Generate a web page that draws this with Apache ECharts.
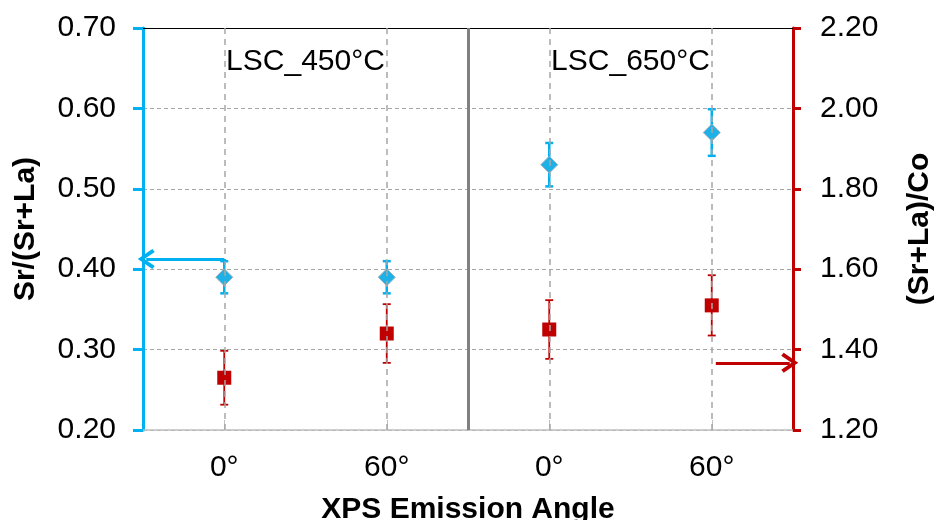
<!DOCTYPE html>
<html>
<head>
<meta charset="utf-8">
<script src="https://cdn.jsdelivr.net/npm/echarts@6/dist/echarts.min.js"></script>
<style>
html,body{margin:0;padding:0;background:#fff;}
#chart{width:935px;height:520px;}
</style>
</head>
<body>
<div id="chart"></div>
<script>
// ---- data ----
const categories = ['0°', '60°', '0°', '60°'];
const groupLabels = ['LSC_450°C', 'LSC_650°C'];
const groupCenters = [0.5, 2.5];          // between the two angles of each group
const srRatio = [0.39, 0.39, 0.53, 0.57];      // Sr/(Sr+La), left axis
const srErr   = [0.02, 0.02, 0.027, 0.029];
const slcRatio = [1.33, 1.44, 1.45, 1.51];     // (Sr+La)/Co, right axis
const slcErr   = [0.067, 0.073, 0.073, 0.075];
const leftTicks = [0.20, 0.30, 0.40, 0.50, 0.60, 0.70];
const rightTicks = [1.20, 1.40, 1.60, 1.80, 2.00, 2.20];

const BLUE = '#00B0F0';
const RED = '#C00000';
const FONT = '"Liberation Sans", Arial, sans-serif';

function errRender(color, lw, capHalf) {
  return function (params, api) {
    const x = api.value(0);
    const lo = api.coord([x, api.value(1)]);
    const hi = api.coord([x, api.value(2)]);
    const st = { stroke: color, lineWidth: lw };
    return {
      type: 'group',
      children: [
        { type: 'line', shape: { x1: lo[0], y1: lo[1], x2: hi[0], y2: hi[1] }, style: st },
        { type: 'line', shape: { x1: lo[0] - capHalf, y1: lo[1], x2: lo[0] + capHalf, y2: lo[1] }, style: st },
        { type: 'line', shape: { x1: hi[0] - capHalf, y1: hi[1], x2: hi[0] + capHalf, y2: hi[1] }, style: st }
      ]
    };
  };
}

const chevron = 'path://M0,12 L10,0 L20,12 L17,14 L10,5.5 L3,14 Z';

const chart = echarts.init(document.getElementById('chart'), null, { renderer: 'canvas' });
chart.setOption({
  backgroundColor: '#ffffff',
  animation: false,
  textStyle: { fontFamily: FONT },
  grid: { left: 143, right: 142, top: 28, bottom: 90, containLabel: false, outerBoundsMode: 'none' },
  xAxis: [{
    type: 'category',
    data: categories,
    boundaryGap: true,
    name: 'XPS Emission Angle',
    nameLocation: 'middle',
    nameGap: 65,
    nameTextStyle: { fontSize: 30, fontWeight: 'bold', color: '#000', fontFamily: FONT },
    axisLine: { onZero: false, lineStyle: { color: '#BFBFBF', width: 1.5 } },
    axisTick: { show: true, alignWithLabel: true, inside: true, length: 10, lineStyle: { color: '#BFBFBF', width: 1 } },
    axisLabel: { fontSize: 30, color: '#000', margin: 23, fontFamily: FONT },
    splitLine: { show: false }
  }, {
    type: 'value', min: -0.5, max: 3.5, show: false,
    axisLine: { onZero: false }
  }],
  yAxis: [{
    type: 'value',
    min: leftTicks[0], max: leftTicks[leftTicks.length - 1], interval: 0.1,
    position: 'left',
    name: 'Sr/(Sr+La)',
    nameLocation: 'middle',
    nameGap: 102,
    nameTextStyle: { fontSize: 30, fontWeight: 'bold', color: '#000', fontFamily: FONT },
    axisLine: { show: true, onZero: false, lineStyle: { color: BLUE, width: 3 } },
    axisTick: { show: true, inside: false, length: 10, lineStyle: { color: BLUE, width: 3 } },
    axisLabel: { fontSize: 30, color: '#000', margin: 27, formatter: v => v.toFixed(2), fontFamily: FONT },
    splitLine: { show: true, lineStyle: { color: '#A6A6A6', width: 1, type: [4, 3] } }
  }, {
    type: 'value',
    min: rightTicks[0], max: rightTicks[rightTicks.length - 1], interval: 0.2,
    position: 'right',
    name: '(Sr+La)/Co',
    nameLocation: 'middle',
    nameGap: 112,
    nameTextStyle: { fontSize: 30, fontWeight: 'bold', color: '#000', fontFamily: FONT },
    axisLine: { show: true, onZero: false, lineStyle: { color: RED, width: 3 } },
    axisTick: { show: true, inside: false, length: 8, lineStyle: { color: RED, width: 3 } },
    axisLabel: { fontSize: 30, color: '#000', margin: 27, formatter: v => v.toFixed(2), fontFamily: FONT },
    splitLine: { show: false }
  }],
  series: [
    {
      // frame / guide lines drawn through the library's scales
      type: 'line', xAxisIndex: 1, yAxisIndex: 0, data: [], clip: false, silent: true, z: 1,
      markLine: {
        silent: true, symbol: ['none', 'none'], animation: false,
        label: { show: false },
        data: [
          [{ coord: [-0.5, 0.7], lineStyle: { color: '#000', width: 1, type: 'solid' } }, { coord: [3.5, 0.7] }],
          { xAxis: 0, lineStyle: { color: '#A6A6A6', width: 1.5, type: [6, 5] } },
          { xAxis: 1, lineStyle: { color: '#A6A6A6', width: 1.5, type: [6, 5] } },
          { xAxis: 2, lineStyle: { color: '#A6A6A6', width: 1.5, type: [6, 5] } },
          { xAxis: 3, lineStyle: { color: '#A6A6A6', width: 1.5, type: [6, 5] } },
          { xAxis: 1.5, lineStyle: { color: '#808080', width: 3, type: 'solid' } }
        ]
      },
      markPoint: {
        silent: true, symbol: 'circle', symbolSize: 0,
        label: { show: true, position: 'inside', fontSize: 30, color: '#000', fontFamily: FONT },
        data: groupLabels.map((t, i) => ({ coord: [groupCenters[i], 0.658], value: t, label: { formatter: t } }))
      }
    },
    {
      // blue arrow pointing to left axis
      type: 'line', xAxisIndex: 1, yAxisIndex: 0, data: [], clip: false, silent: true,
      markLine: {
        silent: true, label: { show: false },
        symbol: ['none', chevron], symbolSize: [20, 17],
        lineStyle: { color: BLUE, width: 3, type: 'solid' },
        data: [
          [{ coord: [0, 0.4127] }, { coord: [-0.48, 0.4127] }],
          [{ coord: [0, 0.4127], symbol: 'none' }, { coord: [0, srRatio[0] + srErr[0]], symbol: 'none' }]
        ]
      }
    },
    {
      // red arrow pointing to right axis
      type: 'line', xAxisIndex: 1, yAxisIndex: 1, data: [], clip: false, silent: true,
      markLine: {
        silent: true, label: { show: false },
        symbol: ['none', chevron], symbolSize: [20, 17],
        lineStyle: { color: RED, width: 3, type: 'solid' },
        data: [
          [{ coord: [3.025, 1.367] }, { coord: [3.48, 1.367] }]
        ]
      }
    },
    {
      type: 'custom', xAxisIndex: 0, yAxisIndex: 1, z: 3,
      renderItem: errRender(RED, 1.8, 4),
      encode: { x: 0, y: [1, 2] },
      data: slcRatio.map((v, i) => [i, v - slcErr[i], v + slcErr[i]])
    },
    {
      type: 'custom', xAxisIndex: 0, yAxisIndex: 0, z: 3,
      renderItem: errRender(BLUE, 2.5, 4),
      encode: { x: 0, y: [1, 2] },
      data: srRatio.map((v, i) => [i, v - srErr[i], v + srErr[i]])
    },
    {
      name: '(Sr+La)/Co', type: 'scatter', xAxisIndex: 0, yAxisIndex: 1, z: 4,
      symbol: 'rect', symbolSize: 14,
      itemStyle: { color: RED, opacity: 1 },
      data: slcRatio.map((v, i) => [i, v])
    },
    {
      name: 'Sr/(Sr+La)', type: 'scatter', xAxisIndex: 0, yAxisIndex: 0, z: 4,
      symbol: 'diamond', symbolSize: [17, 17],
      itemStyle: { color: '#1EB1E8', borderColor: '#9DAFB8', borderWidth: 1, opacity: 1 },
      data: srRatio.map((v, i) => [i, v])
    }
  ]
});
</script>
</body>
</html>
